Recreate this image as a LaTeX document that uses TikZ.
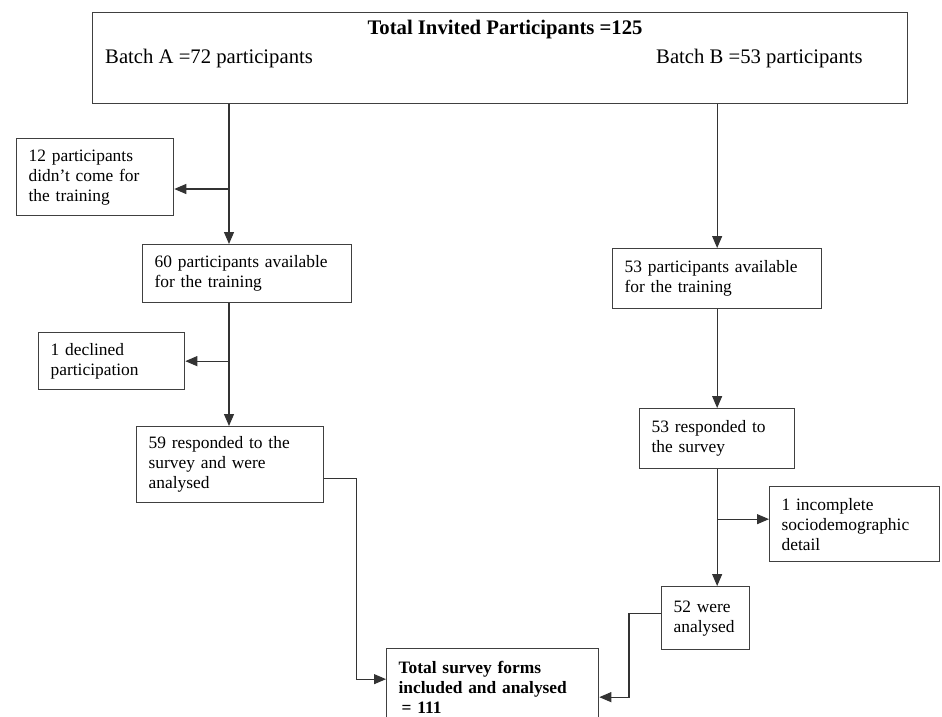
\documentclass[tikz,border=0pt]{standalone}
\usepackage{fontspec}
\setmainfont{Liberation Serif}
\usetikzlibrary{arrows.meta}

\tikzset{
    box/.style={draw=black!75,line width=1.3pt,fill=white,align=left,
        inner xsep=12pt,inner ysep=3pt,anchor=north west,
        font=\fontsize{17.4}{20}\selectfont},
    link/.style={draw=black!80,line width=1.1pt},
    head/.style={font=\fontsize{20.7}{24}\selectfont,inner sep=0pt},
    >={Triangle[length=12pt,width=10pt]}
}

\newcommand{\FlowBox}[6]{%
    \pgfmathsetmacro{\boxtw}{#4-24}
    \node[box,minimum width=#4pt,minimum height=#5pt,text width=\boxtw pt] (#1) at (#2,#3) {#6};
}

\begin{document}
\begin{tikzpicture}[x=1pt,y=-1pt]
        \clip (0,0) rectangle (942,717);
        \fill[white] (0,0) rectangle (942,717);
        \FlowBox{top}{92}{12}{815}{91}{}
        \node[head,font=\fontsize{20.7}{24}\selectfont\bfseries] (title) at (505,30) {Total Invited Participants =125};
        \node[head,anchor=west] (batchA) at (105,59) {Batch A =72 participants};
        \node[head,anchor=west] (batchB) at (656,59) {Batch B =53 participants};
        % batch A
        \FlowBox{miss}{16}{138}{157}{77}{12 participants\\didn't come for\\the training}
        \FlowBox{availA}{142}{244}{209}{58}{60 participants available\\for the training}
        \FlowBox{declA}{38}{332}{146}{57}{1 declined\\participation}
        \FlowBox{respA}{136}{426}{187}{76}{59 responded to the\\survey and were\\analysed}
        % batch B
        \FlowBox{availB}{612}{248}{209}{60}{53 participants available\\for the training}
        \FlowBox{respB}{639}{408}{155}{60}{53 responded to\\the survey}
        \FlowBox{incB}{769}{486}{170}{75}{1 incomplete\\sociodemographic\\detail}
        \FlowBox{analB}{661}{586}{88}{63}{52 were\\analysed}
        \FlowBox{total}{386}{648}{212}{77}{\textbf{Total survey forms}\\\textbf{included and analysed}\\\textbf{\,= 111}}
        \coordinate (trunkA) at (229,0);
        \coordinate (forkA) at (229,189);
        \draw[link,->] (trunkA |- top.south) -- (trunkA |- availA.north);
        \draw[link,->] (forkA) -- (forkA -| miss.east);
        \draw[link,->] (trunkA |- availA.south) -- (trunkA |- respA.north);
        \draw[link,->] (trunkA |- declA.east) -- (declA.east);
        \draw[link,->] ([yshift=-14pt]respA.east) -- ++(32,0) |- ([yshift=8pt]total.west);
        \draw[link,->] (top.south -| availB.north) -- (availB.north);
        \draw[link,->] (availB.south) -- (respB.north);
        \draw[link,->] (respB.south) -- (respB.south |- analB.north);
        \draw[link,->] ([yshift=5pt]respB.south |- incB.west) -- ([yshift=5pt]incB.west);
        \draw[link,->] ([yshift=5pt]analB.west) -- ++(-32,0) |- ([yshift=-10pt]total.east);
    \end{tikzpicture}
\end{document}
